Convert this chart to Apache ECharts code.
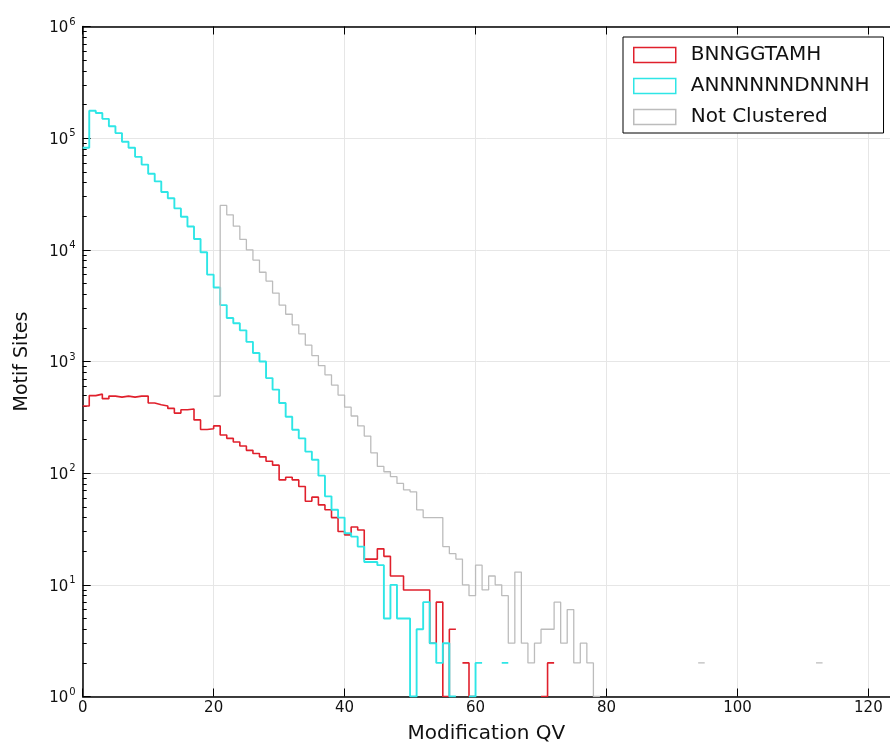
<!DOCTYPE html>
<html>
<head>
<meta charset="utf-8">
<title>Motif Sites vs Modification QV</title>
<script src="https://cdn.jsdelivr.net/npm/echarts@6/dist/echarts.min.js"></script>
<style>
html, body { margin: 0; padding: 0; background: #fff; }
#chart { width: 890px; height: 744px; }
</style>
</head>
<body>
<div id="chart"></div>
<script>
// counts per QV bin; bin i covers [i, i+1). null = empty bin (masked on log axis)
const qvBinWidth = 1

const bnnggtamhCounts = [
	400, 495, 510, 465, 490, 480, 490, 480, 490, 490,
	425, 410, 400, 380, 345, 370, 375, 300, 246, 250,
	265, 220, 205, 190, 175, 160, 150, 140, 128, 118,
	87, 92, 87, 76, 56, 61, 52, 47, 40, 30,
	28, 33, 31, 17, 17, 21, 18, 12, 12, 9,
	9, 9, 9, 3, 7, 1, 4, null, 2, 1,
	null, null, null, null, null, null, null, null, null, null,
	1, 2
]

const annnnnndnnnhCounts = [
	82000, 176000, 168000, 149000, 128000, 111000, 93000, 82000, 68000, 58000,
	48000, 41000, 33000, 29000, 23500, 19800, 16200, 12500, 9500, 6000,
	4600, 3200, 2450, 2200, 1900, 1500, 1190, 1000, 710, 560,
	425, 320, 245, 205, 156, 132, 95, 62, 47, 40,
	29, 27, 22, 16, 16, 15, 5, 10, 5, 5,
	1, 4, 7, 3, 2, 3, 1, null, null, 1,
	2, null, null, null, 2
]

const notClusteredCounts = [
	null, null, null, null, null, null, null, null, null, null,
	null, null, null, null, null, null, null, null, null, null,
	490, 25000, 20600, 16300, 12400, 10000, 8100, 6300, 5250, 4100,
	3200, 2650, 2130, 1770, 1400, 1130, 920, 760, 615, 500,
	390, 325, 265, 215, 152, 115, 103, 93, 81, 71,
	68, 47, 40, 40, 40, 22, 19, 17, 10, 8,
	15, 9, 12, 10, 8, 3, 13, 3, 2, 3,
	4, 4, 7, 3, 6, 2, 3, 2, 1, null,
	null, null, null, null, null, null, null, null, null, null,
	null, null, null, null, 2, null, null, null, null, null,
	null, null, null, null, null, null, null, null, null, null,
	null, null, 2
]

const seriesNames = ['BNNGGTAMH', 'ANNNNNNDNNNH', 'Not Clustered']
const seriesColors = ['#e0202c', '#2ee6e6', '#bcbcbc']
const xTickValues = [0, 20, 40, 60, 80, 100, 120]
const yDecades = [0, 1, 2, 3, 4, 5, 6]

const FONT = 'DejaVu Sans'
const X_MAX = 123.3

// minor ticks 2..9 in every decade
const yMinorTicks = []
yDecades.slice(0, -1).forEach(d => {
	for (let m = 2; m <= 9; m++) yMinorTicks.push(m * Math.pow(10, d))
})

// histtype='step' outline: two vertices per bin
const toSteps = (counts) => {
	const pts = []
	counts.forEach((c, i) => {
		const v = c == null ? '-' : c
		pts.push([i * qvBinWidth, v], [(i + 1) * qvBinWidth, v])
	})
	return pts
}

const allCounts = [bnnggtamhCounts, annnnnndnnnhCounts, notClusteredCounts]
const lineWidths = [1.6, 1.9, 1.3]

const chart = echarts.init(document.getElementById('chart'))

const option = {
	animation: false,
	backgroundColor: '#fff',
	textStyle: { fontFamily: FONT },
	grid: { left: 82.7, right: 0, top: 26.5, bottom: 47.5, containLabel: false, outerBoundsMode: 'none' },
	legend: {
		orient: 'vertical',
		left: 623,
		top: 37,
		padding: [7, 14, 5, 10],
		itemWidth: 42,
		itemHeight: 15,
		itemGap: 9,
		icon: 'rect',
		backgroundColor: '#fff',
		borderColor: '#000',
		borderWidth: 1,
		borderRadius: 0,
		textStyle: { fontSize: 20, lineHeight: 22, color: '#111', fontFamily: FONT, padding: [0, 0, 0, 10] },
		data: seriesNames.map((n, i) => ({
			name: n,
			itemStyle: { color: 'rgba(0,0,0,0)', borderColor: seriesColors[i], borderWidth: 1.5 }
		}))
	},
	xAxis: [
		{
			type: 'value',
			position: 'bottom',
			min: 0,
			max: X_MAX,
			interval: 20,
			name: 'Modification QV',
			nameLocation: 'middle',
			nameGap: 27,
			nameTextStyle: { fontSize: 20, color: '#111', fontFamily: FONT },
			axisLine: { show: true, onZero: false, lineStyle: { color: '#000', width: 1.5 } },
			axisTick: { show: true, inside: true, length: 8, lineStyle: { color: '#000' } },
			axisLabel: {
				color: '#111', fontSize: 15, margin: 4, showMaxLabel: false,
				formatter: v => (xTickValues.indexOf(v) >= 0 ? String(v) : '')
			},
			splitLine: { show: true, lineStyle: { color: '#e6e6e6', width: 1 } }
		},
		{
			type: 'value',
			position: 'top',
			min: 0,
			max: X_MAX,
			interval: 20,
			axisLine: { show: true, onZero: false, lineStyle: { color: '#000', width: 1.5 } },
			axisTick: { show: true, inside: true, length: 8, lineStyle: { color: '#000' } },
			axisLabel: { show: false },
			splitLine: { show: false }
		}
	],
	yAxis: [
		{
			type: 'log',
			logBase: 10,
			min: 1,
			max: 1e6,
			splitNumber: 6,
			position: 'left',
			name: 'Motif Sites',
			nameLocation: 'middle',
			nameGap: 51,
			nameTextStyle: { fontSize: 19, color: '#111', fontFamily: FONT },
			axisLine: { show: true, onZero: false, lineStyle: { color: '#000', width: 1.5 } },
			axisTick: { show: true, inside: true, length: 8, lineStyle: { color: '#000' } },
			axisLabel: {
				margin: 7,
				formatter: v => '{b|10}{s|' + Math.round(Math.log10(v)) + '}',
				rich: {
					b: { fontSize: 15, color: '#111', fontFamily: FONT, verticalAlign: 'bottom' },
					s: { fontSize: 10, color: '#111', fontFamily: FONT, verticalAlign: 'bottom', padding: [0, 0, 9, 1] }
				}
			},
			splitLine: { show: true, lineStyle: { color: '#e6e6e6', width: 1 } }
		},
		{
			type: 'log',
			logBase: 10,
			min: 1,
			max: 1e6,
			splitNumber: 6,
			position: 'left',
			axisLine: { show: false },
			axisTick: { show: true, inside: true, length: 4, customValues: yMinorTicks, lineStyle: { color: '#000' } },
			axisLabel: { show: false },
			splitLine: { show: false }
		}
	],
	series: seriesNames.map((n, i) => ({
		name: n,
		type: 'line',
		xAxisIndex: 0,
		yAxisIndex: 0,
		data: toSteps(allCounts[i]),
		showSymbol: false,
		symbol: 'none',
		clip: true,
		connectNulls: false,
		lineStyle: { color: seriesColors[i], width: lineWidths[i] },
		itemStyle: { color: seriesColors[i] },
		z: 3 + i
	}))
}

chart.setOption(option)
</script>
</body>
</html>
